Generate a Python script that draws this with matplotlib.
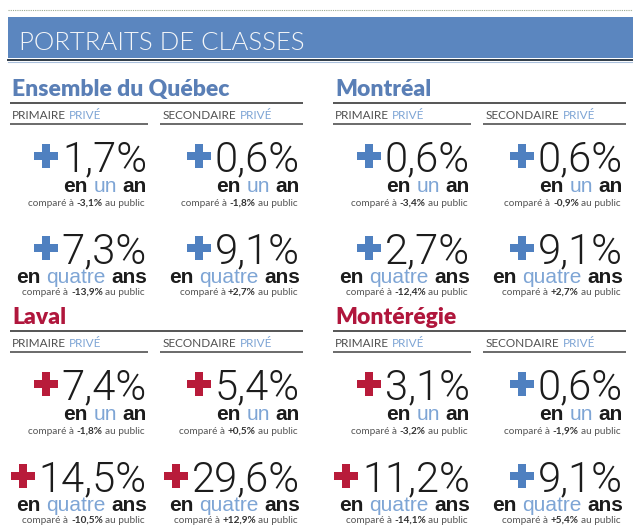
import matplotlib
matplotlib.use("Agg")
import matplotlib.pyplot as plt
from matplotlib.patches import Rectangle

# ---------------- data ----------------
title = "PORTRAITS DE CLASSES"
regions = ["Ensemble du Québec", "Montréal", "Laval", "Montérégie"]
col_headers = ["PRIMAIRE", "SECONDAIRE"]
private_word = "PRIVÉ"
period_labels = ["un", "quatre"]          # "en un an", "en quatre ans"
period_tails = ["an", "ans"]

# private-school growth (%), per region
prim_1an = [1.7, 0.6, 7.4, 3.1]
sec_1an = [0.6, 0.6, 5.4, 0.6]
prim_4ans = [7.3, 2.7, 14.5, 11.2]
sec_4ans = [9.1, 9.1, 29.6, 9.1]
# public-school comparison (%)
prim_1an_pub = [-3.1, -3.4, -1.8, -3.2]
sec_1an_pub = [-1.8, -0.9, 0.5, -1.9]
prim_4ans_pub = [-13.9, -12.4, -10.5, -14.1]
sec_4ans_pub = [2.7, 2.7, 12.9, 5.4]
# which plus signs are red (True) vs blue (False): [prim_1an, sec_1an, prim_4ans, sec_4ans]
red_plus = [
    [False, False, False, False],
    [False, False, False, False],
    [True, True, True, True],
    [True, False, True, False],
]
region_is_red = [False, False, True, True]

# ---------------- style ----------------
BLUE_BANNER = "#5b86bf"
BLUE_TITLE = "#5a7fb6"
RED_TITLE = "#b0163c"
BLUE_PLUS = "#4f80c0"
RED_PLUS = "#b81b3a"
LIGHT_BLUE = "#7ea5d5"
DARK = "#1c1c1c"

W, H = 633, 525
fig = plt.figure(figsize=(W / 100, H / 100), dpi=100)
fig.patch.set_facecolor("white")
ax = fig.add_axes([0, 0, 1, 1])
ax.set_xlim(0, W)
ax.set_ylim(H, 0)
ax.axis("off")

fig.canvas.draw()
renderer = fig.canvas.get_renderer()


def text_w(s, **kw):
    t = ax.text(0, 0, s, **kw)
    w = t.get_window_extent(renderer).width
    t.remove()
    return w


def runs_right(x_right, y, runs, **kw):
    """runs: list of (text, color, weight); drawn right-aligned, separated by spaces"""
    sp = text_w("a a", **kw) - text_w("aa", **kw)
    x = x_right
    for s, c, wgt in reversed(runs):
        t = ax.text(x, y, s, ha="right", va="baseline", color=c, fontweight=wgt, **kw)
        w = t.get_window_extent(renderer).width
        x = x - w - sp
    return x


def fmt(v, signed=False):
    s = f"{abs(v):.1f}".replace(".", ",")
    if signed:
        s = ("+" if v > 0 else "-") + s
    return s + "%"


# banner
ax.plot([8, W], [10, 10], color="#9aa890", lw=0.8, ls=(0, (1, 1)))
ax.add_patch(Rectangle((8, 17), W - 8, 41, color=BLUE_BANNER, lw=0))
ax.plot([8, W], [59.5, 59.5], color="#2f3b48", lw=1.4)
ax.plot([8, W], [62, 62], color="#aac0dc", lw=0.8)
ax.text(19, 50, title, color="#f4f6f8", fontsize=18.5, family="Lato",
        fontweight=300, va="baseline", ha="left")

origins = [(10, 0), (333, 0), (10, 228), (333, 228)]
NUM_KW = dict(fontsize=30, family="Roboto", fontweight=300)
EN_KW = dict(fontsize=15, family="Liberation Sans")
SM_KW = dict(fontsize=7.2, family="Lato")
HD_KW = dict(fontsize=8.5, family="Lato")

for r, name in enumerate(regions):
    x0, dy = origins[r]
    tcol = RED_TITLE if region_is_red[r] else BLUE_TITLE
    ax.text(x0 + 2, 96 + dy, name, color=tcol, fontsize=16.5, family="Lato",
            fontweight="heavy", va="baseline")
    ax.plot([x0, x0 + 293], [103 + dy, 103 + dy], color="#555555", lw=1.4,
            solid_capstyle="butt")
    col_left = [x0 + 2, x0 + 153]
    col_line = [(x0, x0 + 138), (x0 + 150, x0 + 293)]
    col_right = [x0 + 137, x0 + 290]
    vals = [[prim_1an[r], prim_4ans[r]], [sec_1an[r], sec_4ans[r]]]
    pubs = [[prim_1an_pub[r], prim_4ans_pub[r]], [sec_1an_pub[r], sec_4ans_pub[r]]]
    reds = [[red_plus[r][0], red_plus[r][2]], [red_plus[r][1], red_plus[r][3]]]
    sp_hd = text_w("a a", **HD_KW) - text_w("aa", **HD_KW)
    for c in range(2):
        # header
        t = ax.text(col_left[c], 119 + dy, col_headers[c], color="#505050",
                    va="baseline", **HD_KW)
        w = t.get_window_extent(renderer).width
        ax.text(col_left[c] + w + sp_hd, 119 + dy, private_word, color=LIGHT_BLUE,
                va="baseline", **HD_KW)
        ax.plot(list(col_line[c]), [124 + dy, 124 + dy], color="#6a6a6a", lw=1.4,
                solid_capstyle="butt")
        for k in range(2):
            nb = [171, 263][k] + dy
            eb = [192, 283][k] + dy
            cb = [206, 295][k] + dy
            xr = col_right[c]
            t = ax.text(xr, nb, fmt(vals[c][k]), ha="right", va="baseline",
                        color=DARK, **NUM_KW)
            bb = t.get_window_extent(renderer)
            left = xr - bb.width
            # plus sign
            size, th = 24, 7.5
            cx = left - 4 - size / 2
            cy = nb - 15
            pc = RED_PLUS if reds[c][k] else BLUE_PLUS
            ax.add_patch(Rectangle((cx - size / 2, cy - th / 2), size, th, color=pc, lw=0))
            ax.add_patch(Rectangle((cx - th / 2, cy - size / 2), th, size, color=pc, lw=0))
            # "en un an" / "en quatre ans"
            runs_right(xr, eb, [("en", DARK, "bold"), (period_labels[k], LIGHT_BLUE, "normal"),
                                (period_tails[k], DARK, "bold")], **EN_KW)
            runs_right(xr - 2, cb, [("comparé à", "#555555", "normal"),
                                    (fmt(pubs[c][k], signed=True), "#333333", "bold"),
                                    ("au public", "#555555", "normal")], **SM_KW)

fig.savefig("out.png", dpi=100, facecolor="white")
